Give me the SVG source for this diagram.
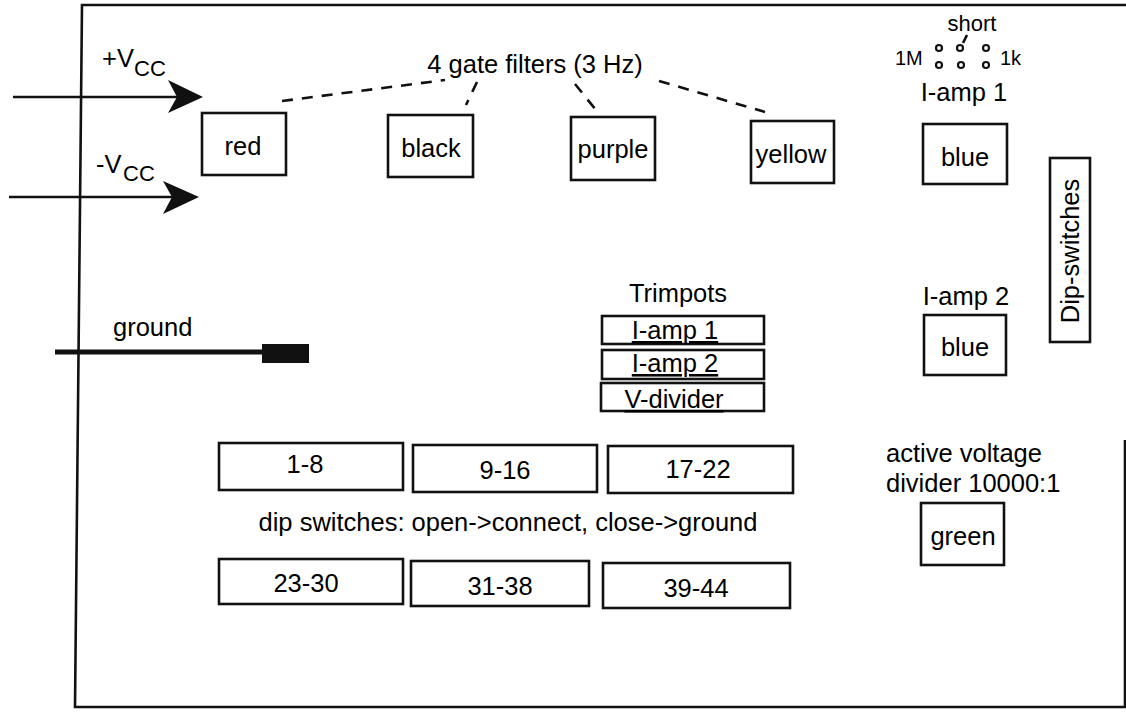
<svg xmlns="http://www.w3.org/2000/svg" width="1126" height="712" viewBox="0 0 1126 712">
<style>
text{font-family:"Liberation Sans",Arial,sans-serif;font-size:25.5px;fill:#000}
.box{fill:none;stroke:#111;stroke-width:2.6}
.ln{fill:none;stroke:#111;stroke-width:2.6}
.dash{fill:none;stroke:#111;stroke-width:2.6;stroke-dasharray:11 9}
.m{text-anchor:middle}
.sm{font-size:20px}
.sub{font-size:22px}
.dot{fill:#fff;stroke:#111;stroke-width:2.2}
.u{text-decoration:underline}
</style>
<rect width="1126" height="712" fill="#fff"/>
<g id="board">
<path class="ln" d="M1126,5 L82,5 L75,707 L1125,707 L1125,440"/>
</g>
<g id="connectors">
<line class="ln" x1="13" y1="97" x2="185" y2="97"/>
<path d="M203,97 L168,80 L177,97 L168,113 Z" fill="#111"/>
<line class="ln" x1="9" y1="197" x2="180" y2="197"/>
<path d="M199,197 L163,181 L172,197 L163,214 Z" fill="#111"/>
<line x1="55" y1="352" x2="263" y2="352" stroke="#111" stroke-width="5"/>
<line class="dash" x1="282" y1="101" x2="445" y2="80"/>
<line class="dash" x1="477" y1="82" x2="466" y2="105"/>
<line class="dash" x1="575" y1="84" x2="596" y2="110"/>
<line class="dash" x1="659" y1="81" x2="765" y2="112"/>
<line class="ln" x1="963" y1="43" x2="967" y2="35" stroke-width="2"/>
</g>
<g id="vcc-plus"><text x="102" y="67">+V</text><text class="sub" x="134" y="76">CC</text></g>
<g id="vcc-minus"><text x="96" y="173">-V</text><text class="sub" x="123" y="181">CC</text></g>
<g id="filters-label"><text class="m" x="535" y="73">4 gate filters (3 Hz)</text></g>
<g id="red"><rect class="box" x="202" y="113" width="84" height="62"/><text class="m" x="243" y="155">red</text></g>
<g id="black"><rect class="box" x="388" y="115" width="85" height="62"/><text class="m" x="431" y="157">black</text></g>
<g id="purple"><rect class="box" x="571" y="117" width="84" height="63"/><text class="m" x="613" y="158">purple</text></g>
<g id="yellow"><rect class="box" x="751" y="121" width="83" height="62"/><text class="m" x="791" y="163">yellow</text></g>
<g id="jumper">
<text class="m" x="972" y="31" style="font-size:22px">short</text>
<text class="sm" x="895" y="65">1M</text>
<text class="sm" x="1000" y="65">1k</text>
<circle class="dot" cx="939" cy="48" r="3"/><circle class="dot" cx="960" cy="48" r="3"/><circle class="dot" cx="986" cy="48" r="3"/>
<circle class="dot" cx="939" cy="65" r="3"/><circle class="dot" cx="961" cy="65" r="3"/><circle class="dot" cx="986" cy="65" r="3"/>
</g>
<g id="iamp1"><text class="m" x="964" y="101">I-amp 1</text><rect class="box" x="923" y="124" width="84" height="60"/><text class="m" x="965" y="166">blue</text></g>
<g id="iamp2"><text class="m" x="966" y="305">I-amp 2</text><rect class="box" x="924" y="315" width="82" height="60"/><text class="m" x="965" y="356">blue</text></g>
<g id="dipswitches"><rect class="box" x="1050" y="158" width="40" height="184"/><text class="m" transform="translate(1079,251) rotate(-90)">Dip-switches</text></g>
<g id="ground"><text x="113" y="336">ground</text><rect x="262" y="344" width="47" height="19" fill="#111"/></g>
<g id="trimpots">
<text class="m" x="678" y="302">Trimpots</text>
<rect class="box" x="602" y="316" width="162" height="28"/><text class="m u" x="675" y="339">I-amp 1</text>
<rect class="box" x="602" y="350" width="162" height="29"/><text class="m u" x="675" y="372">I-amp 2</text>
<rect class="box" x="601" y="383" width="163" height="28"/><text class="m u" x="674" y="408">V-divider</text>
</g>
<g id="sw1-8"><rect class="box" x="219" y="443" width="184" height="47"/><text class="m" x="305" y="473">1-8</text></g>
<g id="sw9-16"><rect class="box" x="413" y="445" width="184" height="47"/><text class="m" x="505" y="479">9-16</text></g>
<g id="sw17-22"><rect class="box" x="608" y="446" width="185" height="47"/><text class="m" x="698" y="478">17-22</text></g>
<g id="dip-label"><text class="m" x="508" y="531">dip switches: open-&gt;connect, close-&gt;ground</text></g>
<g id="sw23-30"><rect class="box" x="219" y="559" width="184" height="45"/><text class="m" x="306" y="592">23-30</text></g>
<g id="sw31-38"><rect class="box" x="411" y="561" width="178" height="45"/><text class="m" x="500" y="595">31-38</text></g>
<g id="sw39-44"><rect class="box" x="603" y="563" width="187" height="45"/><text class="m" x="696" y="597">39-44</text></g>
<g id="divider"><text x="886" y="462">active voltage</text><text x="886" y="492">divider 10000:1</text><rect class="box" x="921" y="503" width="83" height="62"/><text class="m" x="963" y="545">green</text></g>
</svg>
